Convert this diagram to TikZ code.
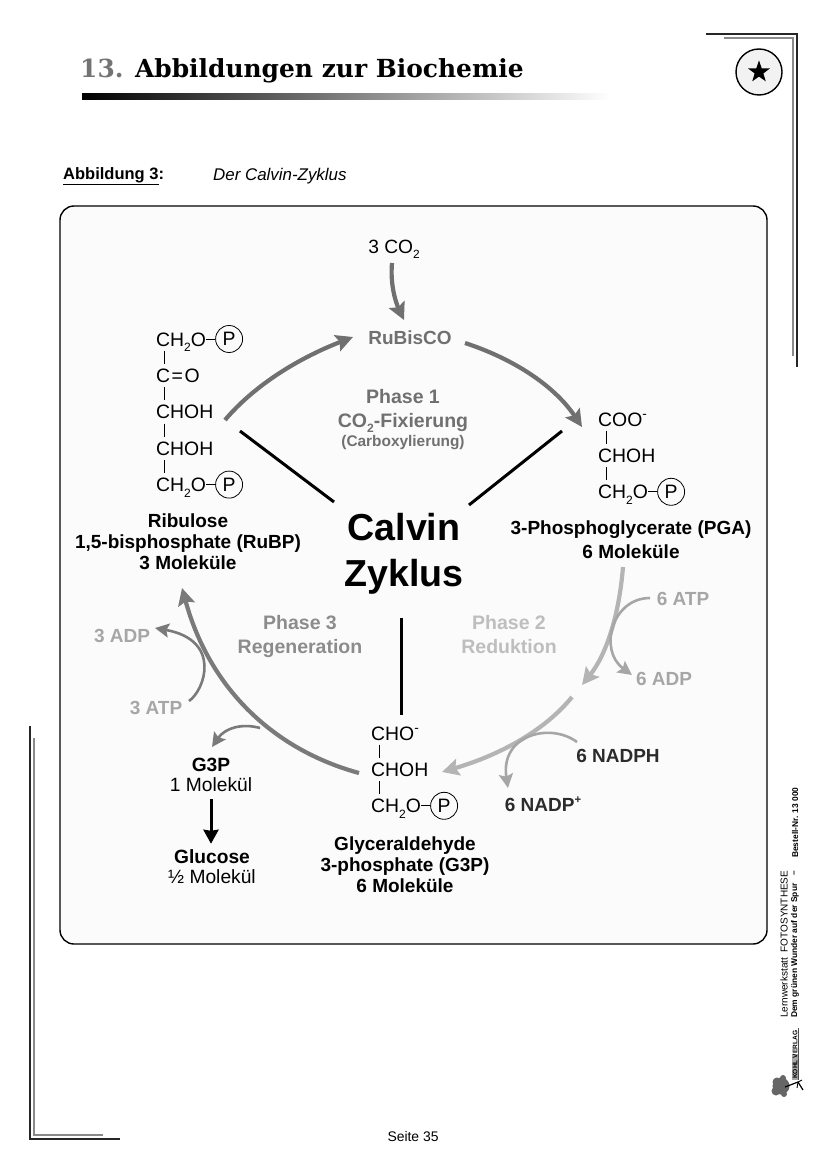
\documentclass[tikz,border=0pt]{standalone}
\usepackage{fontspec}
\setmainfont{Liberation Sans}
\newfontfamily\titlefont{DejaVu Serif}
\usepackage{xcolor}
\usepackage{graphicx}
\usepackage{tikz}
\usetikzlibrary{arrows.meta,positioning,shapes.geometric}
\definecolor{CalvinPanel}{HTML}{FBFBFB}
\definecolor{CalvinInk}{HTML}{2B2B2B}
\definecolor{CalvinOne}{HTML}{707070}
\definecolor{CalvinTwo}{HTML}{B4B4B4}
\definecolor{CalvinTwoText}{HTML}{BEBEBE}
\definecolor{CalvinThree}{HTML}{7A7A7A}
\definecolor{CalvinThreeText}{HTML}{8C8C8C}
\definecolor{CalvinSide}{HTML}{A6A6A6}
\definecolor{CalvinFrame}{HTML}{8A8A8A}
\newcommand{\lowtwo}{\raisebox{-0.28em}{\scalebox{.62}{2}}}
\newcommand{\highplus}{\raisebox{0.42em}{\scalebox{.6}{+}}}

\begin{document}
\begin{tikzpicture}[
  x=1pt, y=-1pt,
  node distance=22pt,
  lab/.style={text=#1, font=\fontsize{19}{21}\selectfont\bfseries, align=center, inner sep=0pt},
  lab/.default=black,
  plain/.style={font=\fontsize{19.2}{20}\selectfont, align=center, inner sep=0pt},
  chem/.style={font=\fontsize{19.4}{21}\selectfont, inner sep=0pt, text height=14pt, text depth=0pt},
  phos/.style={draw, circle, thick, minimum size=27pt, inner sep=0pt, font=\fontsize{19.4}{21}\selectfont, fill=CalvinPanel},
  bond/.style={line width=1pt, shorten <=4.5pt, shorten >=4.5pt},
  link/.style={line width=1pt},
  flow/.style={-{Stealth[length=17pt,width=17pt,inset=3pt]}, line width=4.2pt, color=#1},
  side/.style={-{Stealth[length=14pt,width=14pt,inset=2.5pt]}, line width=2.6pt, color=#1},
  axis/.style={line width=3pt},
  rim/.style={line width=#1, line cap=butt}
]
\useasboundingbox (0,0) rectangle (827,1169);

% page frame
\draw[rim=1.6pt, color=black!85] (706,34) -- (797,34) -- (797,367);
\draw[rim=1.6pt, color=CalvinFrame] (724,38) -- (793,38) -- (793,356);
\draw[rim=1.6pt, color=black!85] (30,726) -- (30,1139) -- (120,1139);
\draw[rim=1.6pt, color=CalvinFrame] (34,738) -- (34,1135) -- (103,1135);

% head of the page
\node[anchor=west, inner sep=0pt, font=\titlefont\bfseries\fontsize{24.9}{27}\selectfont] (title) at (80,71) {\textcolor{black!55}{13.} Abbildungen zur Biochemie};
\shade[left color=black, right color=white] (82,94) rectangle (610,100);
\node[draw, circle, line width=1.4pt, fill=black!5, minimum size=46pt, inner sep=0pt] (badge) at (759,72) {};
\node[star, star points=5, star point ratio=2.5, fill=black, minimum size=23pt, inner sep=0pt] (mark) at (badge) {};
\node[anchor=west, inner sep=0pt, font=\fontsize{16.5}{18}\selectfont\bfseries] (figno) at (63,176.5) {\underline{Abbildung 3}:};
\node[anchor=west, inner sep=0pt, font=\fontsize{16.9}{18}\selectfont\itshape] (figname) at (213,176.5) {Der Calvin-Zyklus};

\draw[fill=CalvinPanel, line width=1.4pt, rounded corners=14pt] (60,206) rectangle (767,944);

% centre
\node[lab, font=\fontsize{37.6}{46}\selectfont\bfseries] (calvin) at (404,554) {Calvin\\Zyklus};
\coordinate (hubL) at (334,502);
\coordinate (hubR) at (469,505);
\coordinate (hubB) at (401,618);
\coordinate (armL) at (240,431);
\coordinate (armR) at (562,431);
\coordinate (armB) at (401,715);
\draw[axis] (hubL) -- (armL);
\draw[axis] (hubR) -- (armR);
\draw[axis] (hubB) -- (armB);

% RuBP
\node[chem, anchor=west] (ru1) at (156,339) {CH\lowtwo O};
\node[chem, below=of ru1.south west, anchor=north west] (ru2) {C\kern1.5pt=\kern1.5pt O};
\node[chem, below=of ru2.south west, anchor=north west] (ru3) {CHOH};
\node[chem, below=of ru3.south west, anchor=north west] (ru4) {CHOH};
\node[chem, below=of ru4.south west, anchor=north west] (ru5) {CH\lowtwo O};
\node[phos, right=9pt of ru1] (ruP1) {P};
\node[phos, right=9pt of ru5] (ruP5) {P};
\foreach \a/\b in {ru1/ru2,ru2/ru3,ru3/ru4,ru4/ru5}
  \draw[bond] ([xshift=8.5pt]\a.south west) -- ([xshift=8.5pt]\b.north west);
\draw[link] (ru1) -- (ruP1);
\draw[link] (ru5) -- (ruP5);
\node[lab] (rubp) at (188,542) {Ribulose\\1,5-bisphosphate (RuBP)\\3 Moleküle};

% PGA
\node[chem, anchor=west] (pg1) at (598,419) {COO\textsuperscript{-}};
\node[chem, below=of pg1.south west, anchor=north west] (pg2) {CHOH};
\node[chem, below=of pg2.south west, anchor=north west] (pg3) {CH\lowtwo O};
\node[phos, right=9pt of pg3] (pgP) {P};
\foreach \a/\b in {pg1/pg2,pg2/pg3}
  \draw[bond] ([xshift=8.5pt]\a.south west) -- ([xshift=8.5pt]\b.north west);
\draw[link] (pg3) -- (pgP);
\node[lab, font=\fontsize{19}{24}\selectfont\bfseries] (pga) at (631,540) {3-Phosphoglycerate (PGA)\\6 Moleküle};

% G3P
\node[chem, anchor=west] (gl1) at (371,733) {CHO\textsuperscript{-}};
\node[chem, below=of gl1.south west, anchor=north west] (gl2) {CHOH};
\node[chem, below=of gl2.south west, anchor=north west] (gl3) {CH\lowtwo O};
\node[phos, right=9pt of gl3] (glP) {P};
\foreach \a/\b in {gl1/gl2,gl2/gl3}
  \draw[bond] ([xshift=8.5pt]\a.south west) -- ([xshift=8.5pt]\b.north west);
\draw[link] (gl3) -- (glP);
\node[lab] (g3p) at (405,865) {Glyceraldehyde\\3-phosphate (G3P)\\6 Moleküle};

% phase labels
\node[plain] (co2) at (394,249) {3 CO\lowtwo};
\node[lab=CalvinOne] (rubisco) at (410,338) {RuBisCO};
\node[lab=CalvinOne, font=\fontsize{19.5}{24}\selectfont\bfseries] (phaseA) at (403,411) {Phase 1\\CO\lowtwo -Fixierung};
\node[lab=CalvinOne, font=\fontsize{15.4}{17}\selectfont\bfseries] (phaseAsub) at (403,443) {(Carboxylierung)};
\node[lab=CalvinTwoText, font=\fontsize{19.5}{24}\selectfont\bfseries] (phaseB) at (509,635) {Phase 2\\Reduktion};
\node[lab=CalvinThreeText, font=\fontsize{19.5}{24}\selectfont\bfseries] (phaseC) at (300,636.5) {Phase 3\\Regeneration};

% side products
\node[lab=CalvinSide] (atpB) at (683,599) {6 ATP};
\node[lab=CalvinSide] (adpB) at (664,679) {6 ADP};
\node[lab=CalvinInk] (nadph) at (618,756) {6 NADPH};
\node[lab=CalvinInk] (nadp) at (543,804) {6 NADP\highplus};
\node[lab=CalvinSide] (adpC) at (122,635.5) {3 ADP};
\node[lab=CalvinSide] (atpC) at (156,707.5) {3 ATP};
\node[plain] (oneg) at (211,775) {{\bfseries G3P}\\1 Molekül};
\node[plain] (gluc) at (212,867) {{\bfseries Glucose}\\½ Molekül};

% cycle arrows
\coordinate (cycA) at (225,420);
\coordinate (cycB) at (353,337);
\coordinate (cycC) at (465,343);
\coordinate (cycD) at (582,427);
\coordinate (cycE) at (623,567);
\coordinate (cycF) at (582,685);
\coordinate (cycG) at (572,697);
\coordinate (cycH) at (442,772);
\coordinate (cycI) at (359,773);
\coordinate (cycJ) at (182,588);
\coordinate (fixA) at (392,263);
\coordinate (fixB) at (404,320);
\draw[flow=CalvinOne] (fixA) .. controls (390,285) and (396,303) .. (fixB);
\draw[flow=CalvinOne] (cycA) .. controls (252,388) and (294,360) .. (cycB);
\draw[flow=CalvinOne] (cycC) .. controls (517,360) and (556,388) .. (cycD);
\draw[flow=CalvinTwo] (cycE) .. controls (619,616) and (606,655) .. (cycF);
\draw[flow=CalvinTwo] (cycG) .. controls (546,729) and (503,754) .. (cycH);
\draw[flow=CalvinThree] (cycI) .. controls (275,750) and (210,690) .. (cycJ);

% side arrows
\coordinate (sideA) at (650,598);
\coordinate (sideB) at (632,675);
\coordinate (sideC) at (577,742);
\coordinate (sideD) at (508,788);
\coordinate (sideE) at (189,701);
\coordinate (sideF) at (155,628);
\coordinate (sideG) at (260,728);
\coordinate (sideH) at (212,747);
\draw[side=CalvinSide] (sideA) .. controls (612,598) and (598,650) .. (sideB);
\draw[side=CalvinSide] (sideC) .. controls (550,722) and (500,735) .. (sideD);
\draw[side=CalvinThree] (sideE) .. controls (205,690) and (222,640) .. (sideF);
\draw[side=CalvinThree] (sideG) .. controls (242,723) and (225,728) .. (sideH);
\draw[-{Stealth[length=14pt,width=15pt,inset=1pt]}, axis, shorten <=7pt, shorten >=6pt] (oneg.south) -- (oneg.south |- gluc.north);

% footer and margin
\node[inner sep=0pt, font=\fontsize{13.9}{15}\selectfont] (page) at (413,1137) {Seite 35};
\node[rotate=90, anchor=west, inner sep=0pt, font=\fontsize{10}{11}\selectfont] (book) at (784,1018) {Lernwerkstatt\ \ FOTOSYNTHESE};
\node[rotate=90, anchor=west, inner sep=0pt, font=\fontsize{8.4}{10}\selectfont\bfseries] (motto) at (795,1018) {Dem grünen Wunder auf der Spur};
\node[rotate=90, anchor=center, inner sep=0pt, font=\fontsize{8.4}{10}\selectfont\bfseries] (dash) at (795,873) {--};
\node[rotate=90, anchor=west, inner sep=0pt, font=\fontsize{8.4}{10}\selectfont\bfseries] (order) at (795,858) {Bestell-Nr. 13 000};
\fill[black!35] (792,1054) rectangle (798,1080);
\node[rotate=90, anchor=west, inner sep=0pt, font=\fontsize{6.6}{8}\selectfont\bfseries] (press) at (795,1079) {KOHL VERLAG};
\draw[line width=0.5pt, black!70] (798.5,1028) -- (798.5,1080);
\fill[black!60] (781,1086) circle (8.5pt) (777,1082) circle (4.5pt) (776,1091) circle (4.5pt) (783,1078) circle (3pt) (784,1094) circle (3pt);
\draw[line width=1.2pt] (785,1087) -- (798,1082) -- (803,1090);
\draw[line width=0.9pt] (798,1082) -- (797,1088) (798,1082) -- (802,1080);
\end{tikzpicture}
\end{document}
